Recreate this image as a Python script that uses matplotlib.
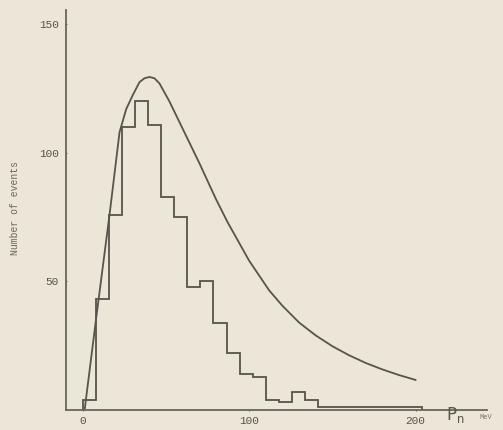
"""
Momentum spectrum P_n: measured histogram vs. calculated curve (scan recreation).
"""

import numpy as np
import matplotlib

matplotlib.use("Agg")
import matplotlib.pyplot as plt

# Histogram (MeV bins, number of events)
bin_width = 7.85
counts = [4, 43, 76, 110, 120, 111, 83, 75, 48, 50, 34, 22, 14, 13, 4, 3, 7, 4,
          1, 1, 1, 1, 1, 1, 1, 1]
edges = np.arange(len(counts) + 1) * bin_width

# Calculated curve
curve_p = [1, 8, 16, 22, 26, 30, 34, 37, 40, 43, 46, 52, 58, 64, 70, 80, 87,
           100, 112, 120, 130, 140, 150, 160, 170, 180, 190, 200]
curve_n = [0, 36, 76, 108, 117, 122.5, 127.5, 129, 129.5, 129, 127, 120, 112,
           104, 96, 82, 73, 58, 46.5, 40.5, 34, 29, 24.8, 21.3, 18.3, 15.8,
           13.6, 11.7]

y_ticks = [50, 100, 150]
x_ticks = [0, 100, 200]

paper = "#ece6d8"
ink = "#58534b"

fig = plt.figure(figsize=(5.03, 4.30), dpi=100, facecolor=paper)
ax = fig.add_axes([0.1312, 0.0465, 0.837, 0.930], facecolor=paper)

ax.stairs(counts, edges, baseline=0, color=ink, linewidth=1.3)
ax.plot(curve_p, curve_n, color=ink, linewidth=1.3)

ax.set_xlim(-10.2, 243)
ax.set_ylim(0, 155.5)

for side in ("top", "right"):
    ax.spines[side].set_visible(False)
for side in ("left", "bottom"):
    ax.spines[side].set_color("#6a655c")
    ax.spines[side].set_linewidth(1.3)

mono = "Liberation Mono"
ax.set_yticks(y_ticks)
ax.set_xticks(x_ticks)
ax.set_yticklabels([str(v) for v in y_ticks], family=mono, fontsize=8, color=ink)
ax.set_xticklabels([str(v) for v in x_ticks], family=mono, fontsize=8, color=ink)
ax.tick_params(axis="both", length=2, width=0.8, color="#6a655c", direction="inout")
ax.tick_params(axis="y", pad=4)
ax.tick_params(axis="x", pad=3)

fig.text(0.03, 0.516, "Number of events", rotation=90, ha="center", va="center",
         family=mono, fontsize=7, color="#6a655c")
fig.text(0.905, 0.012, "P$_\\mathregular{n}$", ha="center", va="bottom",
         fontsize=12, color=ink, family="DejaVu Sans")
fig.text(0.966, 0.02, "MeV", ha="center", va="bottom", family=mono,
         fontsize=5, color="#7a746a")

fig.savefig("out.png", dpi=100, facecolor=paper)
